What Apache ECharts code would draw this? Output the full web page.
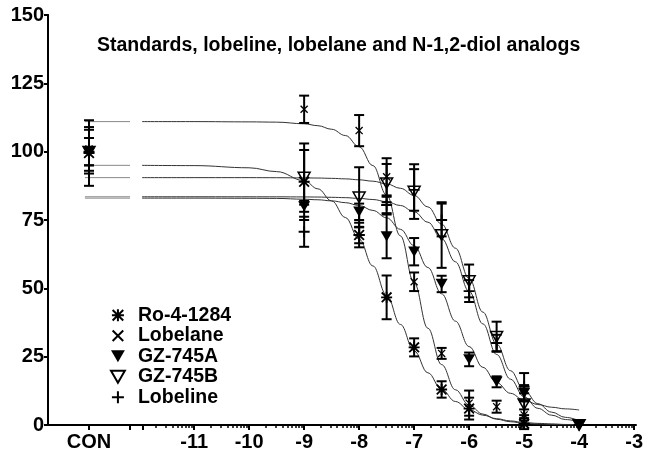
<!DOCTYPE html>
<html><head><meta charset="utf-8">
<script src="https://cdn.jsdelivr.net/npm/echarts@6/dist/echarts.min.js"></script>
<style>html,body{margin:0;padding:0;background:#fff}#c{width:646px;height:459px}</style>
</head><body><div id="c"></div>
<script>
const FONT = "'Liberation Sans', Arial, sans-serif";
const titleText = 'Standards, lobeline, lobelane and N-1,2-diol analogs';
const names = ['Ro-4-1284', 'Lobelane', 'GZ-745A', 'GZ-745B', 'Lobeline'];

// concentrations (log M)
const doses = [-9, -8, -7.5, -7, -6.5, -6, -5.5, -5, -4];

// means and SEM (null = no point)
const roMean       = [89, 69.5, 46.7, 28.4, 13, 6, null, 0.5, null];
const roSem        = [14, 4.5, 8, 3.3, 3, 4, null, 2, null];
const lobelaneMean = [115.5, 107.7, 90.8, 52.4, 26.2, 8, 6.7, 3.7, null];
const lobelaneSem  = [5, 5.7, 6.8, 3.4, 2, 4.6, 2.2, 2, null];
const gzAMean      = [80, 78, 69, 63.4, 51.6, 24, 15.8, 11.6, 0];
const gzASem       = [2, 3, 8, 5, 3, 2.5, 2, 3, null];
const gzBMean      = [90.6, 83.3, 88.5, 85.4, 69.5, 52.7, 32.3, 7.6, 0];
const gzBSem       = [10, 11, 7, 10, 12, 6, 5.5, 4, null];
const lobelineMean = [70.7, 69.5, 80.5, 86, 75, 49, 30, 14, 0];
const lobelineSem  = [5.5, 3, 3, 7.6, 6, 4, 3, 5, null];

// control column
const conMean = [99.5, 101, 100, 100, 100];
const conSem  = [12, 8, 5, 5, 8];

// fitted curves
const curveX = [-12, -11, -10, -9.5, -9, -8.75, -8.5, -8.25, -8, -7.75, -7.5, -7.25, -7, -6.75, -6.5, -6.25, -6, -5.75, -5.5, -5.25, -5, -4.75, -4.5, -4.25, -4];
const roCurve       = [95, 94.9, 94.1, 92.7, 89.4, 86.4, 82.0, 75.9, 68.0, 58.2, 47.5, 36.8, 27.1, 19.1, 13.0, 8.6, 5.6, 3.6, 2.3, 1.5, 0.9, 0.6, 0.4, 0.2, 0.15];
const lobelaneCurve = [111, 111, 110.9, 110.8, 110.2, 109.5, 108.2, 105.9, 101.8, 94.9, 84.1, 69.2, 52.0, 35.4, 22.1, 12.9, 7.3, 4.0, 2.1, 1.2, 0.6, 0.35, 0.2, 0.1, 0.05];
const gzACurve      = [83, 83, 82.95, 82.9, 82.6, 82.4, 82.0, 81.35, 80.3, 78.5, 75.8, 71.6, 65.6, 57.6, 48.0, 38.0, 28.7, 21.1, 15.5, 11.6, 9.1, 7.5, 6.5, 5.9, 5.5];
const gzBCurve      = [90.5, 90.5, 90.5, 90.47, 90.4, 90.35, 90.24, 90.05, 89.7, 89.2, 88.2, 86.6, 84.0, 79.8, 73.5, 64.7, 53.6, 41.3, 29.6, 19.9, 12.7, 7.8, 4.7, 2.8, 1.6];
const lobelineCurve = [83.5, 83.5, 83.49, 83.48, 83.44, 83.4, 83.3, 83.17, 82.9, 82.5, 81.7, 80.3, 78.0, 74.2, 68.2, 59.7, 48.9, 37.0, 25.8, 16.8, 10.3, 6.1, 3.6, 2.0, 1.2];

// axis ticks
const yTicks = [0, 25, 50, 75, 100, 125, 150];
const xMajorLabels = [-11, -10, -9, -8, -7, -6, -5, -4, -3];
const xMin = -11.93, xMax = -3;
const stubStart = 0.9;

const means = [roMean, lobelaneMean, gzAMean, gzBMean, lobelineMean];
const sems = [roSem, lobelaneSem, gzASem, gzBSem, lobelineSem];
const curves = [roCurve, lobelaneCurve, gzACurve, gzBCurve, lobelineCurve];

const P_AST = 'path://M5,0H7V5H12V7H7V12H5V7H0V5H5ZM0,1.4L1.4,0L12,10.6L10.6,12ZM10.6,0L12,1.4L1.4,12L0,10.6Z';
const P_X = 'path://M0,1.4L1.4,0L12,10.6L10.6,12ZM10.6,0L12,1.4L1.4,12L0,10.6Z';
const P_TRI = 'path://M0,0L12,0L6,10.4Z';
const P_PLUS = 'path://M5,0H7V5H12V7H7V12H5V7H0V5H5Z';
const symbols = [
  {icon: P_AST, size: 11, style: {color: '#000'}},
  {icon: P_X, size: 8, style: {color: '#000'}},
  {icon: P_TRI, size: 12, style: {color: '#000'}},
  {icon: P_TRI, size: 12, style: {color: 'rgba(255,255,255,0)', borderColor: '#000', borderWidth: 1.5}},
  {icon: P_PLUS, size: 11, style: {color: '#000'}}
];

// minor log ticks
const minorTicks = [];
for (let d = -12; d < -3; d++) {
  for (let k = 2; k <= 9; k++) {
    const v = d + Math.log10(k);
    if (v > xMin) minorTicks.push(v);
  }
}

function renderErr(params, api) {
  const x = api.value(0), lo = api.value(1), hi = api.value(2);
  const a = api.coord([x, hi]), b = api.coord([x, lo]);
  const w = 5;
  const st = {stroke: '#000', lineWidth: 2};
  return {type: 'group', children: [
    {type: 'line', shape: {x1: a[0], y1: a[1], x2: b[0], y2: b[1]}, style: st},
    {type: 'line', shape: {x1: a[0] - w, y1: a[1], x2: a[0] + w, y2: a[1]}, style: st},
    {type: 'line', shape: {x1: b[0] - w, y1: b[1], x2: b[0] + w, y2: b[1]}, style: st}
  ]};
}

const series = [];
names.forEach((name, i) => {
  const sym = symbols[i];
  series.push({type: 'line', name: name + ' fit', xAxisIndex: 1, yAxisIndex: 1,
    data: curveX.map((x, k) => [x, curves[i][k]]), symbol: 'none', smooth: 0.4, smoothMonotone: 'x',
    lineStyle: {color: '#333', width: 1}, silent: true, z: 1});
  series.push({type: 'line', name: name + ' fit', xAxisIndex: 0, yAxisIndex: 0,
    data: [[stubStart, curves[i][0]], [2, curves[i][0]]], symbol: 'none',
    lineStyle: {color: '#888', width: 1}, silent: true, z: 1});
  const err = [];
  doses.forEach((x, k) => {
    if (means[i][k] != null && sems[i][k] != null) err.push([x, means[i][k] - sems[i][k], means[i][k] + sems[i][k]]);
  });
  series.push({type: 'custom', name: name + ' err', xAxisIndex: 1, yAxisIndex: 1, renderItem: renderErr, data: err, silent: true, z: 2});
  series.push({type: 'custom', name: name + ' err', xAxisIndex: 0, yAxisIndex: 0, renderItem: renderErr,
    data: [[1, conMean[i] - conSem[i], conMean[i] + conSem[i]]], silent: true, z: 2});
  const pts = [];
  doses.forEach((x, k) => { if (means[i][k] != null) pts.push([x, means[i][k]]); });
  const common = {type: 'scatter', name: name, symbol: sym.icon, symbolSize: sym.size, symbolKeepAspect: true,
    itemStyle: Object.assign({opacity: 1}, sym.style), silent: true, z: 3};
  series.push(Object.assign({}, common, {xAxisIndex: 1, yAxisIndex: 1, data: pts}));
  series.push(Object.assign({}, common, {xAxisIndex: 0, yAxisIndex: 0, data: [[1, conMean[i]]]}));
});

const axisLineStyle = {color: '#000', width: 2};
const labelStyle = {fontFamily: FONT, fontWeight: 'bold', fontSize: 20, color: '#000'};

const option = {
  animation: false,
  backgroundColor: '#fff',
  title: {text: titleText, left: 97, top: 36, padding: 0,
    textStyle: {fontFamily: FONT, fontWeight: 'bold', fontSize: 19.5, color: '#000'}},
  legend: {
    orient: 'vertical', left: 110, top: 305, padding: 0, itemWidth: 30, itemHeight: 12, itemGap: 0,
    selectedMode: false,
    textStyle: {fontFamily: FONT, fontWeight: 'bold', fontSize: 19.5, color: '#000', lineHeight: 20.5},
    data: names.map((n, i) => ({name: n, icon: symbols[i].icon}))
  },
  grid: [
    {left: 48, right: 516, top: 15, bottom: 34},
    {left: 143, right: 10, top: 15, bottom: 34},
    {left: 48, right: 10, top: 15, bottom: 34}
  ],
  xAxis: [
    {gridIndex: 0, type: 'value', min: 0, max: 2, position: 'bottom',
      axisLine: {lineStyle: axisLineStyle},
      axisTick: {customValues: [1, 2], length: 5, lineStyle: {color: '#000', width: 2}},
      axisLabel: Object.assign({customValues: [1], formatter: () => 'CON', margin: 7}, labelStyle),
      splitLine: {show: false}},
    {gridIndex: 1, type: 'value', min: xMin, max: xMax, position: 'bottom',
      axisLine: {onZero: false, lineStyle: axisLineStyle},
      axisTick: {customValues: [xMin].concat(xMajorLabels), length: 5, lineStyle: {color: '#000', width: 2}},
      axisLabel: Object.assign({customValues: xMajorLabels, formatter: v => String(v), margin: 7}, labelStyle),
      splitLine: {show: false}},
    {gridIndex: 1, type: 'value', min: xMin, max: xMax, position: 'bottom',
      axisLine: {show: false},
      axisTick: {customValues: minorTicks, length: 3, lineStyle: {color: '#000', width: 1.5}},
      axisLabel: {show: false}, splitLine: {show: false}},
    {gridIndex: 2, type: 'value', min: 0, max: 1, position: 'top',
      axisLine: {lineStyle: axisLineStyle}, axisTick: {show: false}, axisLabel: {show: false}, splitLine: {show: false}}
  ],
  yAxis: [
    {gridIndex: 0, type: 'value', min: 0, max: 150, interval: 25,
      axisLine: {show: true, onZero: false, lineStyle: axisLineStyle},
      axisTick: {show: true, length: 4, lineStyle: {color: '#000', width: 2}},
      axisLabel: Object.assign({margin: 4, customValues: yTicks}, labelStyle),
      splitLine: {show: false}},
    {gridIndex: 1, type: 'value', min: 0, max: 150, show: false},
    {gridIndex: 2, type: 'value', min: 0, max: 1, position: 'right',
      axisLine: {show: true, lineStyle: axisLineStyle}, axisTick: {show: false}, axisLabel: {show: false}, splitLine: {show: false}}
  ],
  series: series
};

const chart = echarts.init(document.getElementById('c'), null, {renderer: 'canvas'});
chart.setOption(option);
</script></body></html>
